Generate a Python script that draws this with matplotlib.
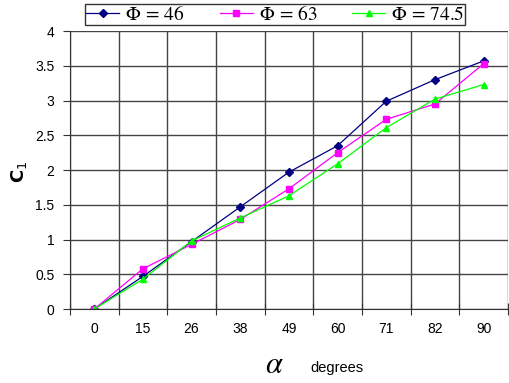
import matplotlib
matplotlib.use("Agg")
import matplotlib.pyplot as plt
import numpy as np

# data
alpha_labels = ["0", "15", "26", "38", "49", "60", "71", "82", "90"]
c1_phi46 = [0.0, 0.47, 0.97, 1.47, 1.97, 2.35, 2.99, 3.30, 3.57]
c1_phi63 = [0.0, 0.58, 0.93, 1.29, 1.73, 2.25, 2.73, 2.95, 3.53]
c1_phi745 = [0.0, 0.43, 0.98, 1.31, 1.63, 2.09, 2.61, 3.02, 3.23]
y_ticks = [0, 0.5, 1, 1.5, 2, 2.5, 3, 3.5, 4]
y_tick_labels = ["0", "0.5", "1", "1.5", "2", "2.5", "3", "3.5", "4"]

plt.rcParams['font.family'] = ['Liberation Sans', 'DejaVu Sans']
plt.rcParams['mathtext.fontset'] = 'stix'

fig = plt.figure(figsize=(5.1, 3.83), dpi=100)
ax = fig.add_axes([0.137, 0.193, 0.859, 0.726])

x = np.arange(len(alpha_labels))
ax.plot(x, c1_phi46, color="#000080", lw=0.9, marker="D", ms=3.8, label=r"$\Phi\,=\,46$")
ax.plot(x, c1_phi63, color="#FF00FF", lw=0.9, marker="s", ms=4.5, label=r"$\Phi\,=\,63$")
ax.plot(x, c1_phi745, color="#00FF00", lw=0.9, marker="^", ms=5, label=r"$\Phi\,=\,74.5$")

ax.set_xlim(-0.5, len(alpha_labels) - 0.5)
ax.set_ylim(0, 4)

# grid at category boundaries, labels at centres
ax.set_xticks(np.arange(-0.5, len(alpha_labels), 1.0))
ax.set_xticklabels([])
ax.set_xticks(x, minor=True)
ax.set_xticklabels(alpha_labels, minor=True, fontsize=10)
ax.tick_params(axis="x", which="minor", length=0, pad=9)
ax.tick_params(axis="x", which="major", direction="inout", length=8, color="#333333")
ax.set_yticks(y_ticks)
ax.set_yticklabels(y_tick_labels, fontsize=10)
ax.tick_params(axis="y", direction="out", length=5, color="#333333", pad=6)

ax.grid(True, which="major", color="#444444", lw=1)
ax.set_axisbelow(True)
for s in ["top", "right"]:
    ax.spines[s].set_visible(False)
for s in ["left", "bottom"]:
    ax.spines[s].set_color("#333333")

fig.text(0.037, 0.55, r"$\mathbf{C}_\mathit{1}$", fontsize=13, rotation=90,
         ha="center", va="center", math_fontfamily="dejavusans")
fig.text(0.538, 0.048, r"$\alpha$", fontsize=22, ha="center", va="center",
         math_fontfamily="stix")
fig.text(0.608, 0.04, "degrees", fontsize=10.5, ha="left", va="center")

leg = fig.legend(loc="upper center", bbox_to_anchor=(0.54, 1.0), ncol=3, frameon=True,
                 fancybox=False, edgecolor="black", handlelength=1.7,
                 borderpad=0.05, borderaxespad=0.2, columnspacing=1.8, handletextpad=0.3,
                 prop={"family": "Liberation Serif", "size": 14})
leg.get_frame().set_linewidth(1)
for t in leg.get_texts():
    t.set_math_fontfamily("stix")

fig.savefig("out.png", dpi=100)
